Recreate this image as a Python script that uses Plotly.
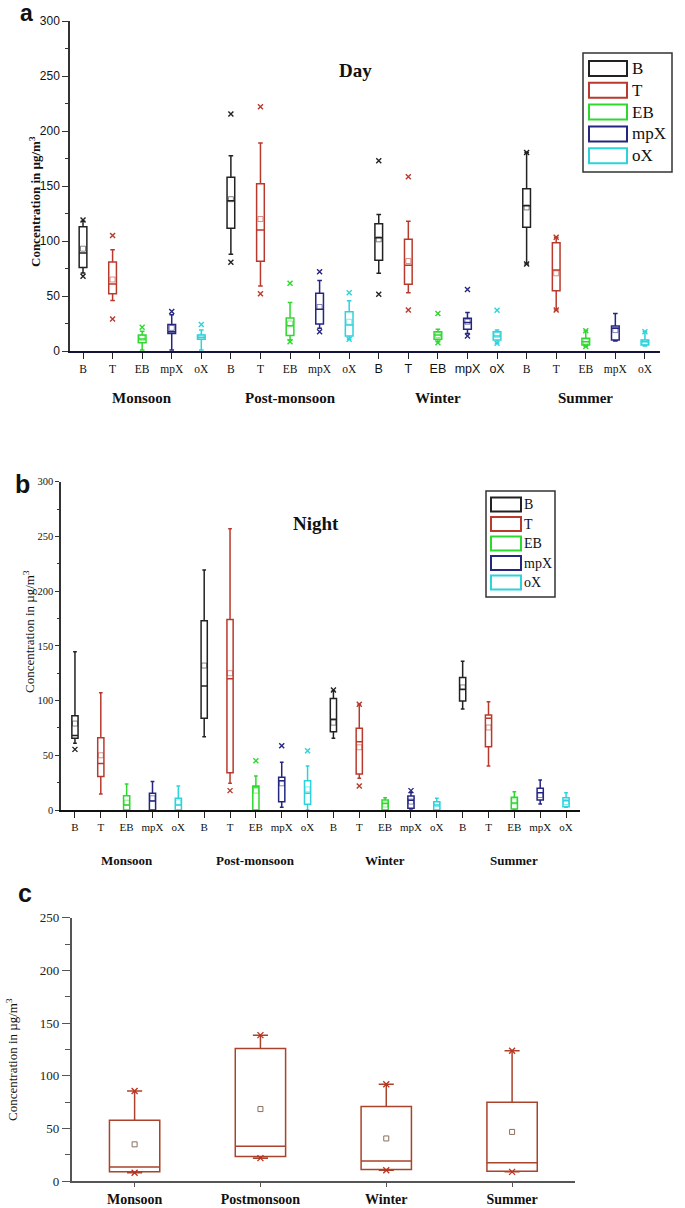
import plotly.graph_objects as go

W, H = 685, 1208

seasons = ["Monsoon", "Post-monsoon", "Winter", "Summer"]
seasons_c = ["Monsoon", "Postmonsoon", "Winter", "Summer"]
compounds = ["B", "T", "EB", "mpX", "oX"]
colors = ["#222222", "#b93a2c", "#2fd82f", "#262680", "#2dd3dc"]

# --- Day (panel a): rows = compounds (B, T, EB, mpX, oX), columns = seasons
day_q1 = [[76, 111.5, 82.5, 112.5], [52, 81.5, 60.6, 54.8], [7.5, 14, 10.6, 5.5],
          [16, 24.5, 19.7, 10], [10.6, 13.6, 10, 5.5]]
day_med = [[89, 136.5, 103, 132], [61, 110, 78, 73.6], [11, 23, 14.5, 8.5],
           [17.5, 38, 25.8, 20.6], [12.5, 23.6, 13.6, 8.5]]
day_q3 = [[113, 158, 115.7, 147.5], [81, 152, 101.5, 98.5], [14.5, 30, 17.6, 11.5],
          [24, 52.5, 29.7, 22.7], [14.5, 35.7, 17.6, 10]]
day_lo = [[71, 88, 70.6, 79], [46, 59, 53, 37.3], [1, 10, 8.5, 4],
          [1, 20.6, 16, 9], [1, 10.6, 7, 4.5]]
day_hi = [[118, 177.5, 124, 180.5], [92, 189, 118, 103.4], [18, 44, 19.7, 18.5],
          [33, 64, 35, 34.2], [19, 45.7, 19, 17.6]]
day_mean = [[93, 138, 101.5, 130.5], [65, 120, 81.8, 70.6], [12, 25, 14.5, 8.5],
            [21, 40, 26.6, 19], [13, 26.6, 14.5, 8]]
day_xlo = [[68, 80.6, 51.5, 79], [29, 52, 37.3, 37.3], [None, 8.5, 7.6, 4],
           [None, 17.5, 13.6, None], [None, 10.6, 7, None]]
day_xhi = [[119, 215.5, 173, 180.5], [105, 222, 158.5, 103.4], [21.5, 61.5, 34, 18.5],
           [36, 72, 56, None], [24, 53, 37, 17.6]]

# --- Night (panel b)
night_q1 = [[65.5, 83.8, 71.6, 99.6], [30.5, 34, 32.9, 57.8], [0, 0, 0, 0.9],
            [0, 7.6, 1.5, 9.1], [0, 5.2, 0, 3]]
night_med = [[68, 113.3, 82.9, 110.3], [42.6, 120, 62.4, 83.8], [4.5, 21, 6, 6.4],
             [8.2, 26.8, 9, 15.8], [4.5, 15.2, 4.6, 8.5]]
night_q3 = [[86.2, 173, 102, 121], [66, 174, 74.6, 86.8], [13, 22, 9.1, 11.6],
            [15.2, 29.9, 12.8, 19.8], [10.7, 26.8, 7.6, 11.3]]
night_lo = [[61, 67, 65.5, 92.3], [14.6, 24.4, 29, 40.2], [0, 0, 0, 0.5],
            [0, 2.4, 1, 5.5], [0, 0, 0, 2.5]]
night_hi = [[144.7, 219.3, 109, 136], [107.2, 257, 96.6, 98.9], [23.8, 31, 11.3, 16.7],
            [26, 43.6, 15.9, 27.4], [22, 40.2, 10.7, 15.8]]
night_mean = [[79, 132, 79.8, 112], [50, 125, 57.3, 75.4], [6.7, 17.7, 5, 7.9],
              [10.7, 24.4, 7.7, 13.7], [7, 18.9, 5.5, 7.3]]
night_xlo = [[55.4, None, None, None], [None, 17.7, 21.9, None], [None] * 4,
             [None] * 4, [None] * 4]
night_xhi = [[None, None, 109.6, None], [None, None, 96.6, None], [None, 45, None, None],
             [None, 58.8, 17.7, None], [None, 54.2, None, None]]

# --- total (panel c)
tot_q1 = [8.7, 23.3, 10.9, 9.3]
tot_med = [13.4, 32.9, 18.9, 17.4]
tot_q3 = [57.8, 125.8, 70.8, 74.8]
tot_lo = [7.8, 21.7, 10.2, 8.7]
tot_hi = [85.4, 138.5, 91.9, 123.6]
tot_mean = [34.8, 68.3, 40.4, 46.6]

SERIF = "Liberation Serif"
SANS = "Liberation Sans"
YTITLE = "Concentration in µg/m<sup>3</sup>"


def fx(p):
    return p / W


def fy(p):
    return 1 - p / H


def cat(s, c):
    return s + "|" + c


cats = [cat(s, c) for s in seasons for c in compounds]

fig = go.Figure()


def add_panel(n, q1, med, q3, lo, hi, mean, xlo, xhi, width):
    xa = "x" if n == 1 else "x%d" % n
    ya = "y" if n == 1 else "y%d" % n
    for i, comp in enumerate(compounds):
        xs = [cat(s, comp) for s in seasons]
        col = colors[i]
        fig.add_trace(go.Box(x=xs, q1=q1[i], median=med[i], q3=q3[i],
                             lowerfence=lo[i], upperfence=hi[i],
                             width=width, whiskerwidth=0.6,
                             line=dict(color=col, width=1.5),
                             fillcolor="rgba(0,0,0,0)", showlegend=False,
                             hoverinfo="skip", xaxis=xa, yaxis=ya))
        fig.add_trace(go.Scatter(x=xs, y=mean[i], mode="markers", showlegend=False,
                                 marker=dict(symbol="square-open", size=5, color=col,
                                             opacity=0.55, line=dict(width=1)),
                                 hoverinfo="skip", xaxis=xa, yaxis=ya))
        for ext in (xlo[i], xhi[i]):
            fig.add_trace(go.Scatter(x=xs, y=ext, mode="markers", showlegend=False,
                                     marker=dict(symbol="x-thin", size=5,
                                                 line=dict(color=col, width=1.4)),
                                     hoverinfo="skip", xaxis=xa, yaxis=ya))


add_panel(1, day_q1, day_med, day_q3, day_lo, day_hi, day_mean, day_xlo, day_xhi, 0.26)
add_panel(2, night_q1, night_med, night_q3, night_lo, night_hi, night_mean,
          night_xlo, night_xhi, 0.24)

# panel c
ccol = "#a9432b"
fig.add_trace(go.Box(x=seasons_c, q1=tot_q1, median=tot_med, q3=tot_q3,
                     lowerfence=tot_lo, upperfence=tot_hi, width=0.4, whiskerwidth=0.3,
                     line=dict(color=ccol, width=1.5), fillcolor="rgba(0,0,0,0)",
                     showlegend=False, hoverinfo="skip", xaxis="x3", yaxis="y3"))
fig.add_trace(go.Scatter(x=seasons_c, y=tot_mean, mode="markers", showlegend=False,
                         marker=dict(symbol="square-open", size=5, color="#8a6f5f",
                                     line=dict(width=1)),
                         hoverinfo="skip", xaxis="x3", yaxis="y3"))
for ext in (tot_lo, tot_hi):
    fig.add_trace(go.Scatter(x=seasons_c, y=ext, mode="markers", showlegend=False,
                             marker=dict(symbol="x-thin", size=6,
                                         line=dict(color="#c0301e", width=1.3)),
                             hoverinfo="skip", xaxis="x3", yaxis="y3"))

# tick labels: Winter group of panel a is set in a sans font
ticktext_a = []
for s in seasons:
    for c in compounds:
        if s == "Winter":
            ticktext_a.append("<span style='font-family:Liberation Sans;font-size:12.5px'>%s</span>" % c)
        else:
            ticktext_a.append(c)
ticktext_b = [c for s in seasons for c in compounds]

common_x = dict(type="category", showgrid=False, zeroline=False, showline=True,
                ticks="outside", automargin=False, categoryorder="array")
common_y = dict(showgrid=False, zeroline=False, showline=True, ticks="outside",
                tick0=0, automargin=False)

shapes = []
annotations = []


def legend(x0, y0, x1, y1, sx0, sx1, top0, pitch, sh, tx, size):
    shapes.append(dict(type="rect", xref="paper", yref="paper", x0=fx(x0), x1=fx(x1),
                       y0=fy(y1), y1=fy(y0), line=dict(color="#333", width=1.5)))
    for i, comp in enumerate(compounds):
        t = top0 + i * pitch
        shapes.append(dict(type="rect", xref="paper", yref="paper", x0=fx(sx0), x1=fx(sx1),
                           y0=fy(t + sh), y1=fy(t), line=dict(color=colors[i], width=2),
                           fillcolor="white"))
        annotations.append(dict(text=comp, xref="paper", yref="paper", x=fx(tx),
                                y=fy(t + sh / 2), xanchor="left", yanchor="middle",
                                showarrow=False, font=dict(family=SERIF, size=size, color="#111")))


legend(583, 53, 672, 172, 589, 627, 61, 21.8, 15, 630, 17)
legend(486, 491, 555, 597, 491, 521, 497.5, 19.5, 14, 522, 14)


def note(text, x, y, size, family=SERIF, bold=False, angle=0, xref="paper"):
    annotations.append(dict(text="<b>%s</b>" % text if bold else text,
                            xref=xref, yref="paper",
                            x=x if xref != "paper" else fx(x), y=fy(y),
                            xanchor="center", yanchor="middle", showarrow=False,
                            textangle=angle, font=dict(family=family, size=size, color="#111")))


note("a", 26, 13, 23, SANS, True)
note("b", 22, 484, 25, SANS, True)
note("c", 25, 893, 25, SANS, True)
note("Day", 355, 70, 19, SERIF, True)
note("Night", 316, 523, 19, SERIF, True)
note(YTITLE, 35, 202, 13, SERIF, True, -90)
note(YTITLE, 29, 632, 13, SERIF, False, -90)
note(YTITLE, 12, 1060, 13, SERIF, False, -90)
for s in seasons:
    note(s, cat(s, "EB"), 398, 15, SERIF, True, xref="x")
    note(s, cat(s, "EB"), 860, 13, SERIF, True, xref="x2")

fig.update_layout(
    width=W, height=H, template="none",
    margin=dict(l=0, r=0, t=0, b=0),
    paper_bgcolor="white", plot_bgcolor="white",
    font=dict(family=SERIF, color="#111"),
    boxmode="overlay", showlegend=False,
    xaxis=dict(common_x, domain=[fx(70), fx(660)], anchor="y", categoryarray=cats,
               range=[-0.44, 19.51], tickvals=cats, ticktext=ticktext_a,
               linecolor="#14143a", linewidth=2, ticklen=6, tickcolor="#222",
               tickfont=dict(family=SERIF, size=11.5, color="#111")),
    yaxis=dict(common_y, domain=[fy(351), fy(21)], anchor="x", range=[0, 300], dtick=50,
               linecolor="#333", linewidth=1.5, ticklen=6, tickcolor="#333",
               minor=dict(dtick=25, ticks="outside", ticklen=3, tickcolor="#333"),
               tickfont=dict(family=SANS, size=12, color="#111")),
    xaxis2=dict(common_x, domain=[fx(61), fx(580)], anchor="y2", categoryarray=cats,
                range=[-0.54, 19.54], tickvals=cats, ticktext=ticktext_b,
                linecolor="#111", linewidth=2, ticklen=6, tickcolor="#222",
                tickfont=dict(family=SERIF, size=11, color="#111")),
    yaxis2=dict(common_y, domain=[fy(810), fy(481.7)], anchor="x2", range=[0, 300], dtick=50,
                linecolor="#333", linewidth=1.5, ticklen=4, tickcolor="#333",
                minor=dict(dtick=25, ticks="outside", ticklen=2, tickcolor="#333"),
                tickfont=dict(family=SERIF, size=10.5, color="#111")),
    xaxis3=dict(common_x, domain=[fx(71.7), fx(575)], anchor="y3", categoryarray=seasons_c,
                range=[-0.5, 3.5], linecolor="#555", linewidth=2, ticklen=4, tickcolor="#555",
                tickfont=dict(family=SERIF, size=14, color="#111"),
                ticktext=["<b>%s</b>" % s for s in seasons_c], tickvals=seasons_c),
    yaxis3=dict(common_y, domain=[fy(1181), fy(917.7)], anchor="x3", range=[0, 250], dtick=50,
                linecolor="#555", linewidth=1.5, ticklen=8, tickcolor="#555",
                minor=dict(dtick=25, ticks="outside", ticklen=5, tickcolor="#555"),
                tickfont=dict(family=SERIF, size=13, color="#222")),
    shapes=shapes,
    annotations=annotations,
)

# the page body has a default 8px margin; drop it so the figure fills the window
fig.write_html("out.html", config={"displayModeBar": False},
               post_script="document.body.style.margin='0';")
